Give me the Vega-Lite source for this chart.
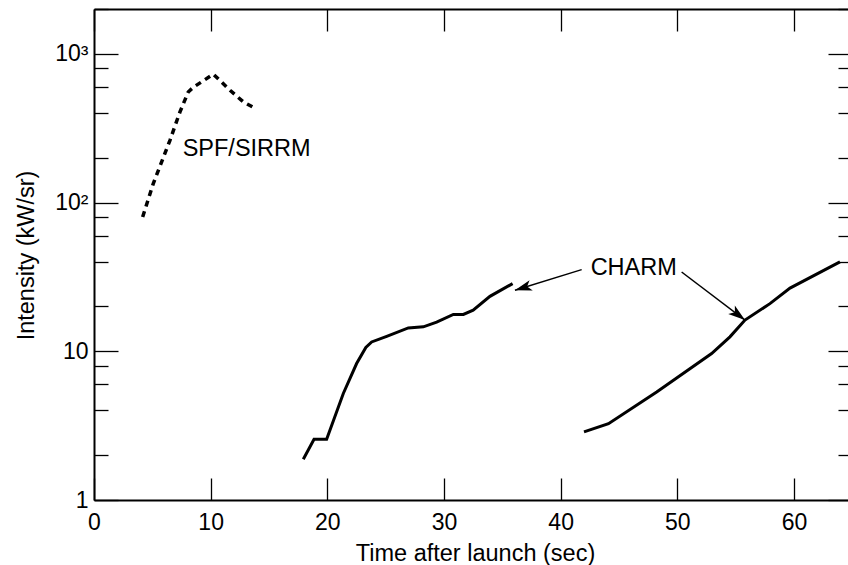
{
  "$schema": "https://vega.github.io/schema/vega-lite/v6.json",
  "width": 754,
  "height": 491,
  "autosize": "none",
  "padding": {"left": 94, "top": 9, "right": 0, "bottom": 65},
  "config": {
    "view": {"stroke": null},
    "font": "Liberation Sans",
    "axis": {
      "labelFont": "Liberation Sans",
      "titleFont": "Liberation Sans",
      "labelFontSize": 23,
      "titleFontSize": 23.5,
      "titleFontWeight": "normal",
      "labelColor": "black",
      "titleColor": "black",
      "domainColor": "black",
      "tickColor": "black",
      "tickWidth": 1.3,
      "domainWidth": 2,
      "grid": false,
      "labelFlush": false,
      "labelOverlap": false
    }
  },
  "datasets": {
    "curves": [
      {"series": "SPF/SIRRM", "time": 4.17, "intensity": 80},
      {"series": "SPF/SIRRM", "time": 5.08, "intensity": 134},
      {"series": "SPF/SIRRM", "time": 6.51, "intensity": 262},
      {"series": "SPF/SIRRM", "time": 7.37, "intensity": 407},
      {"series": "SPF/SIRRM", "time": 8.08, "intensity": 554},
      {"series": "SPF/SIRRM", "time": 8.51, "intensity": 595},
      {"series": "SPF/SIRRM", "time": 10.23, "intensity": 729},
      {"series": "SPF/SIRRM", "time": 11.66, "intensity": 568},
      {"series": "SPF/SIRRM", "time": 12.8, "intensity": 475},
      {"series": "SPF/SIRRM", "time": 13.94, "intensity": 424},
      {"series": "CHARM-1", "time": 17.94, "intensity": 1.88},
      {"series": "CHARM-1", "time": 18.86, "intensity": 2.56},
      {"series": "CHARM-1", "time": 19.94, "intensity": 2.56},
      {"series": "CHARM-1", "time": 21.37, "intensity": 5.2},
      {"series": "CHARM-1", "time": 22.51, "intensity": 8.27},
      {"series": "CHARM-1", "time": 23.3, "intensity": 10.6},
      {"series": "CHARM-1", "time": 23.8, "intensity": 11.55},
      {"series": "CHARM-1", "time": 25.09, "intensity": 12.6},
      {"series": "CHARM-1", "time": 26.94, "intensity": 14.35},
      {"series": "CHARM-1", "time": 28.23, "intensity": 14.6},
      {"series": "CHARM-1", "time": 29.37, "intensity": 15.7},
      {"series": "CHARM-1", "time": 30.8, "intensity": 17.7},
      {"series": "CHARM-1", "time": 31.66, "intensity": 17.7},
      {"series": "CHARM-1", "time": 32.5, "intensity": 18.9},
      {"series": "CHARM-1", "time": 33.94, "intensity": 23.4},
      {"series": "CHARM-1", "time": 35.88, "intensity": 28.5},
      {"series": "CHARM-2", "time": 42.0, "intensity": 2.87},
      {"series": "CHARM-2", "time": 44.1, "intensity": 3.26},
      {"series": "CHARM-2", "time": 48.23, "intensity": 5.33},
      {"series": "CHARM-2", "time": 52.94, "intensity": 9.66},
      {"series": "CHARM-2", "time": 54.51, "intensity": 12.5},
      {"series": "CHARM-2", "time": 55.8, "intensity": 16.2},
      {"series": "CHARM-2", "time": 57.94, "intensity": 20.9},
      {"series": "CHARM-2", "time": 59.66, "intensity": 26.6},
      {"series": "CHARM-2", "time": 63.94, "intensity": 39.9}
    ],
    "labels": [
      {"text": "SPF/SIRRM", "time": 7.6, "intensity": 205.6},
      {"text": "CHARM", "time": 42.57, "intensity": 32.8}
    ],
    "arrows": [
      {"id": 1, "time": 41.8, "intensity": 35.4, "time2": 36.08, "intensity2": 25.7},
      {"id": 2, "time": 50.37, "intensity": 34.1, "time2": 55.8, "intensity2": 16.2}
    ]
  },
  "layer": [
    {
      "data": {"name": "curves"},
      "transform": [{"filter": "datum.series == 'SPF/SIRRM'"}],
      "mark": {"type": "line", "strokeDash": [6, 5], "strokeWidth": 3.5, "color": "black"},
      "encoding": {
        "x": {
          "field": "time", "type": "quantitative",
          "scale": {"domain": [0, 64.63], "nice": false, "zero": false},
          "axis": {
            "orient": "bottom", "values": [0, 10, 20, 30, 40, 50, 60],
            "tickSize": -22, "labelPadding": 33, "labelBaseline": "top",
            "title": "Time after launch (sec)", "titleX": 381, "titleY": 60,
            "titleBaseline": "alphabetic", "titleAlign": "center"
          }
        },
        "y": {
          "field": "intensity", "type": "quantitative",
          "scale": {"type": "log", "domain": [1, 2000], "nice": false},
          "axis": {
            "orient": "left", "values": [1, 10, 100, 1000],
            "tickSize": -24, "labelPadding": 30, "labelBaseline": "middle",
            "labelExpr": "datum.value >= 1000 ? '10³' : datum.value >= 100 ? '10²' : datum.value >= 10 ? '10' : '1'",
            "title": "Intensity (kW/sr)", "titleX": -60.5, "titleY": 246,
            "titleAngle": -90, "titleBaseline": "alphabetic", "titleAlign": "center"
          }
        }
      }
    },
    {
      "data": {"name": "curves"},
      "transform": [{"filter": "datum.series != 'SPF/SIRRM'"}],
      "mark": {"type": "line", "strokeWidth": 3, "color": "black"},
      "encoding": {
        "detail": {"field": "series"},
        "x": {
          "field": "time", "type": "quantitative",
          "axis": {"orient": "top", "values": [0, 10, 20, 30, 40, 50, 60], "tickSize": -22, "labels": false, "title": null}
        },
        "y": {
          "field": "intensity", "type": "quantitative",
          "axis": {"orient": "left", "values": [2, 4, 6, 8, 20, 40, 60, 80, 200, 400, 600, 800, 2000], "tickSize": -14, "labels": false, "domain": false, "title": null}
        }
      }
    },
    {
      "data": {"name": "labels"},
      "mark": {"type": "text", "align": "left", "baseline": "alphabetic", "fontSize": 23.5, "font": "Liberation Sans", "color": "black"},
      "encoding": {
        "text": {"field": "text"},
        "x": {"field": "time", "type": "quantitative", "axis": null},
        "y": {
          "field": "intensity", "type": "quantitative",
          "axis": {"orient": "right", "values": [1, 10, 100, 1000], "tickSize": -20, "labels": false, "domain": false, "title": null}
        }
      }
    },
    {
      "data": {"name": "arrows"},
      "mark": {"type": "rule", "strokeWidth": 1.5, "color": "black"},
      "encoding": {
        "x": {"field": "time", "type": "quantitative", "axis": null},
        "y": {
          "field": "intensity", "type": "quantitative",
          "axis": {"orient": "right", "values": [2, 4, 6, 8, 20, 40, 60, 80, 200, 400, 600, 800, 2000], "tickSize": -10, "labels": false, "domain": false, "title": null}
        },
        "x2": {"field": "time2"},
        "y2": {"field": "intensity2"}
      }
    },
    {
      "data": {"name": "arrows"},
      "transform": [{"filter": "datum.id == 1"}],
      "mark": {"type": "point", "shape": "M0,0L-1,-0.32L-0.75,0L-1,0.32Z", "filled": true, "opacity": 1, "color": "black", "size": 1150, "angle": 163},
      "encoding": {
        "x": {"field": "time2", "type": "quantitative", "axis": null},
        "y": {"field": "intensity2", "type": "quantitative", "axis": null}
      }
    },
    {
      "data": {"name": "arrows"},
      "transform": [{"filter": "datum.id == 2"}],
      "mark": {"type": "point", "shape": "M0,0L-1,-0.32L-0.75,0L-1,0.32Z", "filled": true, "opacity": 1, "color": "black", "size": 1150, "angle": 37.5},
      "encoding": {
        "x": {"field": "time2", "type": "quantitative", "axis": null},
        "y": {"field": "intensity2", "type": "quantitative", "axis": null}
      }
    }
  ],
  "resolve": {"axis": {"x": "independent", "y": "independent"}}
}
